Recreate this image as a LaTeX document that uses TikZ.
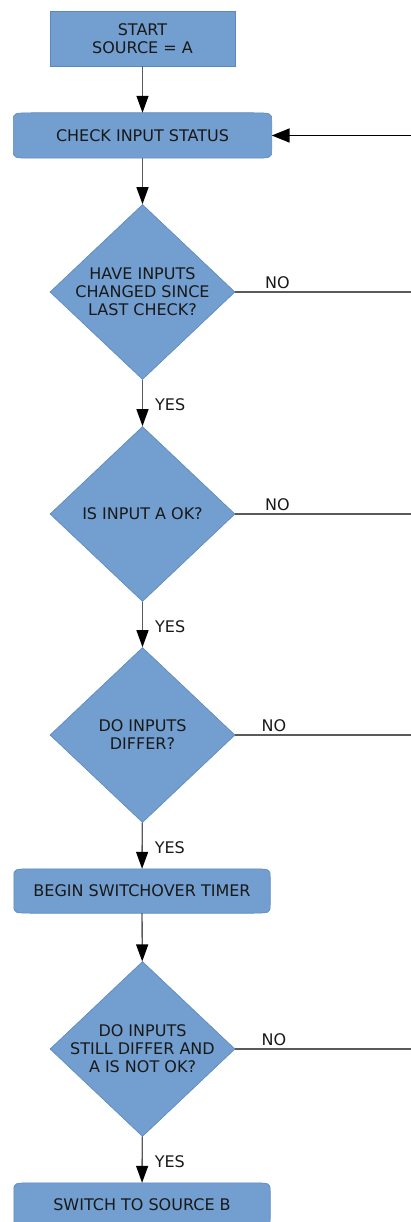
\documentclass[tikz,border=0pt]{standalone}
\usepackage{fontspec}
\setmainfont{DejaVu Sans}
\usetikzlibrary{shapes.geometric,arrows.meta,calc}
\pgfdeclarelayer{background}
\pgfsetlayers{background,main}
\definecolor{boxfill}{RGB}{114,159,207}
\definecolor{boxline}{RGB}{90,135,190}
\definecolor{conn}{RGB}{90,90,90}
\definecolor{txt}{RGB}{25,25,25}
\tikzset{
  base/.style={fill=boxfill,draw=boxline,line width=0.6pt,text=txt,font=\fontsize{16}{18}\selectfont,align=center,inner sep=0pt},
  startbox/.style={base,rectangle,minimum width=185pt,minimum height=55pt},
  procbox/.style={text=txt,font=\fontsize{16}{18}\selectfont,align=center,inner sep=0pt,rectangle,minimum width=258pt,minimum height=45pt},
  procshape/.style={fill=boxfill,draw=boxline,line width=0.6pt},
  decision/.style={base,diamond,inner sep=-40pt,minimum width=185pt,minimum height=175pt},
  flow/.style={draw=conn,line width=1.3pt,-{Triangle[width=12pt,length=17pt,color=black]}},
  noline/.style={draw=conn,line width=1.3pt},
  back/.style={draw=black,line width=1.8pt,-{Triangle[width=14pt,length=18pt,color=black]}},
  lbl/.style={text=txt,font=\fontsize{16}{18}\selectfont,inner sep=0pt}
}
\newcommand\procoutline[1]{%
  \begin{pgfonlayer}{background}
  \path[procshape]
    ($(#1.north west)+(0pt,-8pt)$) .. controls (#1.north west) .. ($(#1.north west)+(22pt,0pt)$)
    -- ($(#1.north east)+(-22pt,0pt)$) .. controls (#1.north east) .. ($(#1.north east)+(0pt,-8pt)$)
    -- ($(#1.south east)+(0pt,8pt)$) .. controls (#1.south east) .. ($(#1.south east)+(-22pt,0pt)$)
    -- ($(#1.south west)+(22pt,0pt)$) .. controls (#1.south west) .. ($(#1.south west)+(0pt,8pt)$)
    -- cycle;
  \end{pgfonlayer}}
\begin{document}
\begin{tikzpicture}[x=1pt,y=-1pt]
\useasboundingbox (0,0) rectangle (411,1222);
\begin{scope}
\clip (0,0) rectangle (411,1222);
\node[startbox] (start) at (142.5,38.5) {START\\SOURCE = A};
\node[procbox] (check) at (142.5,135.5) {CHECK INPUT STATUS};
\procoutline{check}
\node[decision] (d1) at (142.5,292) {HAVE INPUTS\\CHANGED SINCE\\LAST CHECK?};
\node[decision] (d2) at (142.5,514) {IS INPUT A OK?};
\node[decision] (d3) at (142.5,735) {DO INPUTS\\DIFFER?};
\node[procbox,minimum width=256pt,minimum height=44pt] (timer) at (142,891) {BEGIN SWITCHOVER TIMER};
\procoutline{timer}
\node[decision] (d4) at (142.5,1049) {DO INPUTS\\STILL DIFFER AND\\A IS NOT OK?};
\node[procbox,minimum width=256pt,minimum height=44pt] (switch) at (142,1205) {SWITCH TO SOURCE B};
\procoutline{switch}

\coordinate (r0) at (411,135.5);
\coordinate (r1) at (411,292);
\coordinate (r2) at (411,514);
\coordinate (r3) at (411,735);
\coordinate (r4) at (411,1049);

\draw[flow] (start) -- (check);
\draw[flow] (check) -- (d1);
\draw[flow] (d1) -- node[lbl,right=12pt,yshift=-2pt]{YES} (d2);
\draw[flow] (d2) -- node[lbl,right=12pt,yshift=-2pt]{YES} (d3);
\draw[flow] (d3) -- node[lbl,right=12pt,yshift=-2pt]{YES} (timer);
\draw[flow] (timer) -- (d4);
\draw[flow] (d4) -- node[lbl,right=12pt,yshift=-2pt]{YES} (switch);

\draw[back] (r0) -- (check);
\draw[noline] (d1.east) -- (r1) node[lbl,pos=0.24,above=3pt]{NO};
\draw[noline] (d2.east) -- (r2) node[lbl,pos=0.24,above=3pt]{NO};
\draw[noline] (d3.east) -- (r3) node[lbl,pos=0.22,above=3pt]{NO};
\draw[noline] (d4.east) -- (r4) node[lbl,pos=0.22,above=3pt]{NO};
\end{scope}
\end{tikzpicture}
\end{document}
